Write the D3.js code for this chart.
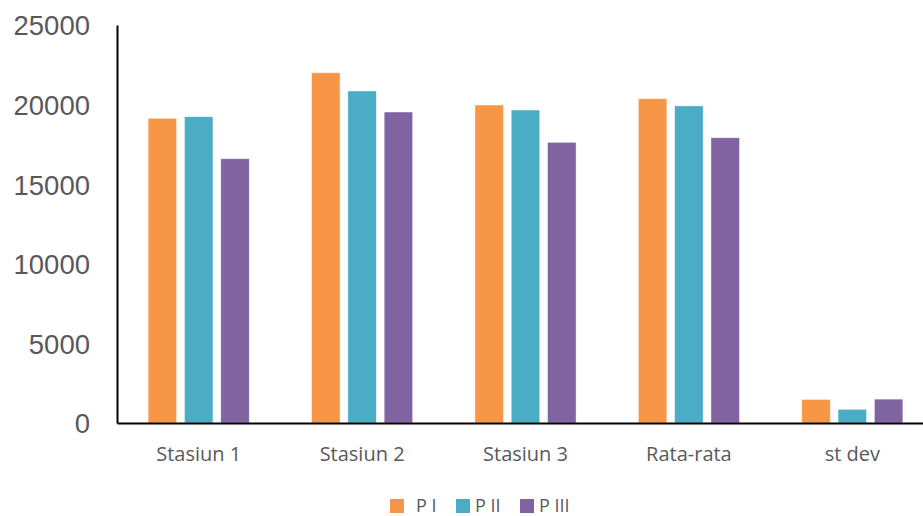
<!DOCTYPE html>
<html>
<head>
<meta charset="utf-8">
<script src="https://cdn.jsdelivr.net/npm/d3@7/dist/d3.min.js"></script>
<style>
  html, body { margin: 0; padding: 0; background: #ffffff; }
  svg { display: block; }
</style>
</head>
<body>
<svg id="chart" width="923" height="516"></svg>
<script>
// Categories along the x axis
const categories = ["Stasiun 1", "Stasiun 2", "Stasiun 3", "Rata-rata", "st dev"];
// Series names and values per category
const seriesNames = ["P I", "P II", "P III"];
const valuesPI   = [19140, 22000, 19975, 20370, 1480];
const valuesPII  = [19240, 20855, 19660, 19920, 860];
const valuesPIII = [16600, 19535, 17630, 17920, 1500];
const seriesValues = [valuesPI, valuesPII, valuesPIII];
const seriesColors = ["#F79646", "#4BACC6", "#8064A2"];
// Y axis tick labels
const yTicks = [0, 5000, 10000, 15000, 20000, 25000];

const svg = d3.select("#chart");

const plot = { left: 117, right: 934, top: 25, bottom: 423 };

const x0 = d3.scaleBand()
  .domain(categories)
  .range([plot.left, plot.right])
  .paddingInner(0)
  .paddingOuter(0);

const x1 = d3.scaleBand()
  .domain(seriesNames)
  .range([0, x0.bandwidth()])
  .paddingInner(0.215)
  .paddingOuter(0.857);

const y = d3.scaleLinear()
  .domain([0, 25000])
  .range([plot.bottom, plot.top]);

// Bars
const groups = svg.append("g").selectAll("g")
  .data(categories)
  .join("g")
  .attr("transform", d => `translate(${x0(d)},0)`);

groups.selectAll("rect")
  .data((c, ci) => seriesNames.map((s, si) => ({ s, si, v: seriesValues[si][ci] })))
  .join("rect")
  .attr("x", d => x1(d.s))
  .attr("width", x1.bandwidth())
  .attr("y", d => y(d.v))
  .attr("height", d => y(0) - y(d.v))
  .attr("fill", d => seriesColors[d.si])
  .attr("stroke", "#ffffff")
  .attr("stroke-opacity", 0.6)
  .attr("stroke-width", 0.75);

// Y axis: vertical line and tick labels
const yAxis = d3.axisLeft(y)
  .tickValues(yTicks)
  .tickSize(0)
  .tickPadding(27)
  .tickFormat(d3.format("d"));

const gy = svg.append("g")
  .attr("transform", `translate(${plot.left},0)`)
  .call(yAxis);
gy.select(".domain").attr("stroke", "#000000").attr("stroke-width", 2);
gy.selectAll("text")
  .attr("fill", "#595959")
  .attr("font-family", "'Liberation Sans', Arial, sans-serif")
  .attr("font-size", "27.5px")
  .attr("dy", "0.36em");

// X axis: baseline and category labels
const xAxis = d3.axisBottom(x0).tickSize(0).tickPadding(24);
const gx = svg.append("g")
  .attr("transform", `translate(0,${plot.bottom})`)
  .call(xAxis);
gx.select(".domain").attr("stroke", "#000000").attr("stroke-width", 2);
gx.selectAll("text")
  .attr("fill", "#595959")
  .attr("font-family", "'Open Sans', sans-serif")
  .attr("font-size", "20px");

// Legend: swatch position and label offset per entry
const legendX = [390, 456, 520];
const legendTextDx = [26, 19, 19];
const legend = svg.append("g").selectAll("g")
  .data(seriesNames)
  .join("g")
  .attr("transform", (d, i) => `translate(${legendX[i]},499)`);
legend.append("rect")
  .attr("width", 14).attr("height", 14)
  .attr("fill", (d, i) => seriesColors[i]);
legend.append("text")
  .attr("x", (d, i) => legendTextDx[i]).attr("y", 13)
  .attr("fill", "#595959")
  .attr("font-family", "'Open Sans', sans-serif")
  .attr("font-size", "18px")
  .text(d => d);
</script>
</body>
</html>
